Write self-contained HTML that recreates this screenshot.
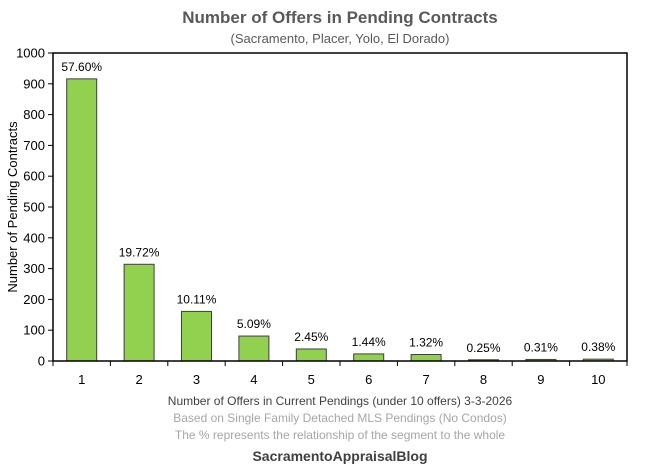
<!DOCTYPE html>
<html><head><meta charset="utf-8"><style>
body{margin:0;background:#fff;font-family:"Liberation Sans",sans-serif}
svg{display:block}
</style></head><body>
<svg id="chart" width="647" height="469" xmlns="http://www.w3.org/2000/svg" font-family="Liberation Sans, sans-serif">
<text x="340" y="23" text-anchor="middle" font-size="17" font-weight="bold" fill="#595959">Number of Offers in Pending Contracts</text>
<text x="340" y="43" text-anchor="middle" font-size="13" fill="#595959">(Sacramento, Placer, Yolo, El Dorado)</text>
<g id="plot"></g>
<text x="340" y="405" text-anchor="middle" font-size="12" fill="#404040">Number of Offers in Current Pendings (under 10 offers) 3-3-2026</text>
<text x="340" y="422" text-anchor="middle" font-size="12" fill="#a6a6a6">Based on Single Family Detached MLS Pendings (No Condos)</text>
<text x="340" y="439" text-anchor="middle" font-size="12" fill="#a6a6a6">The % represents the relationship of the segment to the whole</text>
<text x="340" y="461" text-anchor="middle" font-size="14" font-weight="bold" fill="#404040">SacramentoAppraisalBlog</text>
<text transform="translate(17,207) rotate(-90)" text-anchor="middle" font-size="13" fill="#000">Number of Pending Contracts</text>
</svg>
<script>
const categories=["1","2","3","4","5","6","7","8","9","10"];
const values=[916,314,161,81,39,23,21,4,5,6];
const labels=["57.60%","19.72%","10.11%","5.09%","2.45%","1.44%","1.32%","0.25%","0.31%","0.38%"];
const yTicks=[0,100,200,300,400,500,600,700,800,900,1000];
const NS="http://www.w3.org/2000/svg";
const L=53,R=627,T=53,B=361,yMax=1000;
const band=(R-L)/categories.length;
const y=v=>B-(v/yMax)*(B-T);
const x=i=>L+band*i;
const g=document.getElementById('plot');
function mk(tag,attrs){const e=document.createElementNS(NS,tag);for(const k in attrs)e.setAttribute(k,attrs[k]);g.appendChild(e);return e;}
yTicks.forEach(t=>{
  const tk=mk('line',{x1:L-5,x2:L,y1:y(t),y2:y(t),stroke:'#000'});
  
  
  const tx=mk('text',{x:L-8,y:y(t)+4.5,'text-anchor':'end','font-size':13,fill:'#000'});
  tx.textContent=t;
  
  
});
for(let i=0;i<=categories.length;i++){
  const tk=mk('line',{x1:x(i),x2:x(i),y1:B,y2:B+5,stroke:'#000'});
  
  
}
categories.forEach((c,i)=>{
  const cx=x(i)+band/2;
  const b=mk('rect',{x:cx-15,y:y(values[i]),width:30,height:B-y(values[i]),fill:'#92d050',stroke:'#3f3f3f','stroke-width':1});
  
  
  const lb=mk('text',{x:cx,y:y(values[i])-8,'text-anchor':'middle','font-size':12,fill:'#000'});
  lb.textContent=labels[i];
  
  
  const tx=mk('text',{x:cx,y:B+23,'text-anchor':'middle','font-size':13,fill:'#000'});
  tx.textContent=c;
  
  
});
const frame=mk('rect',{x:L,y:T,width:R-L,height:B-T,fill:'none',stroke:'#000','stroke-width':1.5});


</script>
</body></html>
